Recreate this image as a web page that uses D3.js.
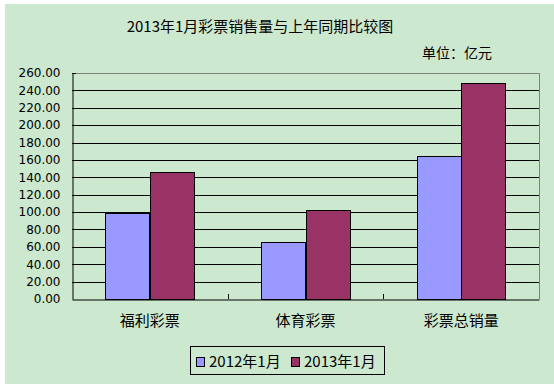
<!DOCTYPE html>
<html><head><meta charset="utf-8">
<script src="https://cdn.jsdelivr.net/npm/d3@7"></script>
<style>body{margin:0;background:#fff}svg{display:block}</style>
</head><body><svg id="c" width="554" height="384"></svg>
<script>
const categories = ["福利彩票", "体育彩票", "彩票总销量"];
const seriesNames = ["2012年1月", "2013年1月"];
const values2012 = [98.9, 65.3, 164.6];
const values2013 = [146.6, 102.1, 248.8];
const yTicks = [0,20,40,60,80,100,120,140,160,180,200,220,240,260];
const colors = ["#9999FF", "#993366"];

const svg = d3.select("#c");
const cjk = "'Noto Sans CJK SC', sans-serif";
svg.append("rect").attr("x",5).attr("y",4).attr("width",549).attr("height",380).attr("fill","#CCE8CF");

const L=72, R=539, T=73, B=299;
const x = d3.scaleBand().domain(categories).range([L,R]);
const xs = d3.scaleBand().domain(seriesNames).range([0,x.bandwidth()]).paddingInner(0).paddingOuter(0.75);
const y = d3.scaleLinear().domain([0,260]).range([B,T]);

// gridlines
svg.append("g").selectAll("line").data(yTicks.filter(d=>d>0&&d<260)).join("line")
  .attr("x1",L).attr("x2",R).attr("y1",d=>Math.round(y(d))+0.5).attr("y2",d=>Math.round(y(d))+0.5)
  .attr("stroke","#000").attr("stroke-width",1);
// top/right border gray
svg.append("path").attr("d",`M${L},${T+0.5}H${R+0.5}V${B}`).attr("fill","none").attr("stroke","#808080");

// bars
const data = categories.map((c,i)=>({c, vals:[values2012[i], values2013[i]]}));
const g = svg.append("g");
data.forEach(d=>{
  d.vals.forEach((v,j)=>{
    const bx = x(d.c)+xs(seriesNames[j]);
    g.append("rect").attr("x",Math.round(bx)+0.5).attr("y",Math.round(y(v))+0.5)
      .attr("width",Math.round(xs.bandwidth())).attr("height",Math.round(B-y(v)))
      .attr("fill",colors[j]).attr("stroke","#000").attr("stroke-width",1);
  });
});

// axes
const yAxis = d3.axisLeft(y).tickValues(yTicks).tickSize(0).tickPadding(12).tickFormat(d3.format(".2f"));
const ya = svg.append("g").attr("transform",`translate(${L+0.5},0)`).call(yAxis);
ya.select(".domain").attr("stroke","#000");
ya.selectAll("text").attr("font-family","'DejaVu Sans', sans-serif").attr("font-size",12).attr("fill","#000");
// left top tick mark
svg.append("line").attr("x1",L).attr("x2",L+4).attr("y1",T+0.5).attr("y2",T+0.5).attr("stroke","#000");

const xAxis = d3.axisBottom(x).tickSize(0).tickPadding(16);
const xa = svg.append("g").attr("transform",`translate(0,${B+0.5})`).call(xAxis);
xa.select(".domain").attr("stroke","#000");
xa.selectAll("text").attr("font-family",cjk).attr("font-size",15).attr("fill","#000");
// category boundary ticks (inside)
svg.append("g").selectAll("line").data([1,2]).join("line")
  .attr("x1",i=>Math.round(L+i*x.step())+0.5).attr("x2",i=>Math.round(L+i*x.step())+0.5)
  .attr("y1",B-5).attr("y2",B).attr("stroke","#000");

// title
svg.append("text").attr("x",260).attr("y",32).attr("text-anchor","middle")
  .attr("font-family",cjk).attr("font-size",15).attr("fill","#000").text("2013年1月彩票销售量与上年同期比较图");
svg.append("text").attr("x",492).attr("y",58).attr("text-anchor","end")
  .attr("font-family",cjk).attr("font-size",14).attr("fill","#000").text("单位：亿元");

// legend
const lg = svg.append("g");
lg.append("rect").attr("x",190.5).attr("y",346.5).attr("width",194).attr("height",28).attr("fill","none").attr("stroke","#000");
const lx = [196, 291];
seriesNames.forEach((s,i)=>{
  lg.append("rect").attr("x",lx[i]+0.5).attr("y",357.5).attr("width",8).attr("height",9).attr("fill",colors[i]).attr("stroke","#000");
  lg.append("text").attr("x",lx[i]+13).attr("y",367).attr("font-family",cjk).attr("font-size",15).attr("fill","#000").text(s);
});
</script></body></html>
